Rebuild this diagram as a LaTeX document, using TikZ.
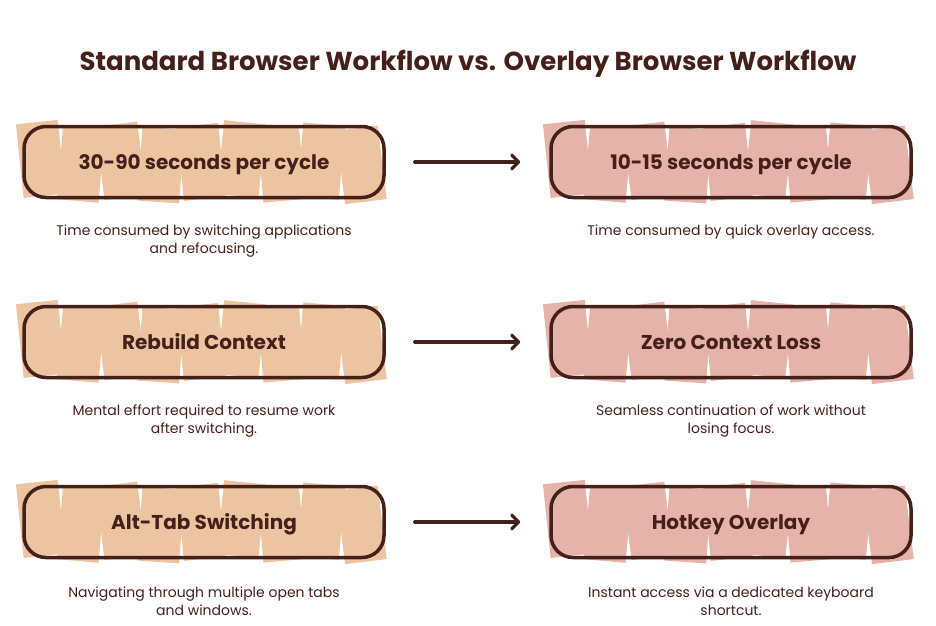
\documentclass[tikz,border=0pt]{standalone}
\usepackage{fontspec}
\setmainfont{Poppins}
\usetikzlibrary{arrows.meta}
\definecolor{ink}{HTML}{45201B}
\definecolor{peach}{HTML}{EDC4A1}
\definecolor{rose}{HTML}{E5B3A9}
\tikzset{
  box/.style={draw=ink, line width=3.5pt, rounded corners=22pt, minimum width=360pt, minimum height=71pt, inner sep=0pt,
    text height=14pt, text depth=0pt, font=\fontsize{20}{24}\selectfont\bfseries, text=ink},
  captxt/.style={text=ink, font=\fontsize{14}{18}\selectfont, align=center},
  arr/.style={draw=ink, line width=3.2pt, line cap=round, -{Straight Barb[length=7pt,width=14pt,round]}, shorten <=29pt, shorten >=29pt},
  ttl/.style={text=ink, font=\fontsize{26}{30}\selectfont\bfseries}
}
\newcommand{\strips}[3]{%
  \foreach \i/\a/\d in {0/6/-3,1/-5/2,2/7/-1,3/-4/3,4/6/0,5/-6/-3,6/5/2,7/-5/-1,8/7/3}{
    \fill[#3, rotate around={\a:({#1+40*\i+16},{#2})}] ({#1+40*\i-4},{#2-37+\d}) rectangle ({#1+40*\i+38},{#2+37+\d});
  }%
}
\begin{document}
\begin{tikzpicture}[x=1pt,y=-1pt]
\useasboundingbox (0,0) rectangle (936,625);
\node[ttl] (title) at (468,64) {Standard Browser Workflow vs. Overlay Browser Workflow};
% row 1
\strips{24}{162}{peach}
\strips{551}{162}{rose}
\node[box] (l1) at (204,162) {30-90 seconds per cycle};
\node[box] (r1) at (731,162) {10-15 seconds per cycle};
\draw[arr] (l1) -- (r1);
\node[captxt] (lc1) at (204,241) {Time consumed by switching applications\\and refocusing.};
\node[captxt] (rc1) at (731,232) {Time consumed by quick overlay access.};
% row 2
\strips{24}{342}{peach}
\strips{551}{342}{rose}
\node[box] (l2) at (204,342) {Rebuild Context};
\node[box] (r2) at (731,342) {Zero Context Loss};
\draw[arr] (l2) -- (r2);
\node[captxt] (lc2) at (204,421) {Mental effort required to resume work\\after switching.};
\node[captxt] (rc2) at (731,421) {Seamless continuation of work without\\losing focus.};
% row 3
\strips{24}{522}{peach}
\strips{551}{522}{rose}
\node[box] (l3) at (204,522) {Alt-Tab Switching};
\node[box] (r3) at (731,522) {Hotkey Overlay};
\draw[arr] (l3) -- (r3);
\node[captxt] (lc3) at (204,601) {Navigating through multiple open tabs\\and windows.};
\node[captxt] (rc3) at (731,601) {Instant access via a dedicated keyboard\\shortcut.};
\end{tikzpicture}
\end{document}
